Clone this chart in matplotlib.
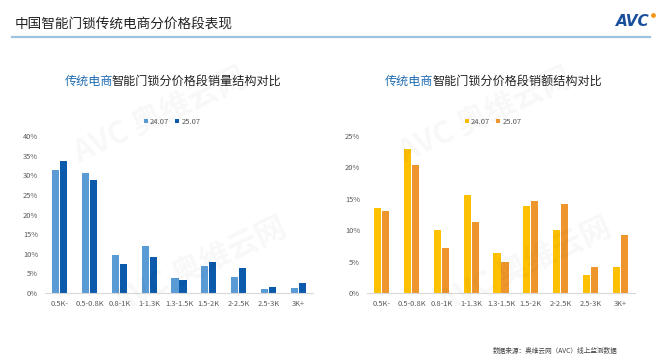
import matplotlib
matplotlib.use("Agg")
import matplotlib.pyplot as plt
import numpy as np

plt.rcParams['font.family'] = ['Noto Sans CJK SC', 'DejaVu Sans']

categories = ["0.5K-", "0.5-0.8K", "0.8-1K", "1-1.3K", "1.3-1.5K", "1.5-2K", "2-2.5K", "2.5-3K", "3K+"]
series_names = ["24.07", "25.07"]
volume_2407 = [31.3, 30.6, 9.8, 12.0, 3.9, 6.9, 4.1, 1.0, 1.2]
volume_2507 = [33.6, 28.8, 7.5, 9.2, 3.4, 7.8, 6.3, 1.5, 2.6]
value_2407 = [13.6, 23.0, 10.0, 15.6, 6.3, 13.8, 10.0, 2.8, 4.1]
value_2507 = [13.0, 20.4, 7.2, 11.3, 5.0, 14.7, 14.2, 4.2, 9.2]

W, H = 659, 364
fig = plt.figure(figsize=(W / 100, H / 100), dpi=100)
fig.patch.set_facecolor("white")

def fx(px):
    return px / W

def fy(py):
    return 1 - py / H

# faint watermarks
for (x, y) in [(160, 115), (485, 115), (200, 265), (525, 265)]:
    fig.text(fx(x), fy(y), "AVC 奥维云网", fontsize=22, color="#000000", alpha=0.03,
             rotation=25, ha="center", va="center", fontweight="bold")

# header
fig.text(fx(15), fy(24), "中国智能门锁传统电商分价格段表现", fontsize=9.8, color="#222222",
         ha="left", va="center")
fig.add_artist(plt.Line2D([fx(12), fx(650)], [fy(37), fy(37)], color="#9CC3E0", lw=1.6))
fig.text(fx(650), fy(21), "AVC", fontsize=11, color="#1A4F9C", fontweight="bold",
         fontstyle="italic", ha="right", va="center", family="DejaVu Sans")
fig.add_artist(plt.Line2D([fx(653)], [fy(15)], marker="o", color="#F39A1E", markersize=2.5))

def draw_panel(left_px, right_px, ymax, s1, s2, c1, c2, title_rest, split_px, legend_cx):
    ax = fig.add_axes([fx(left_px), fy(293), fx(right_px - left_px), fy(136) - fy(293)])
    x = np.arange(len(categories))
    w = 0.24
    ax.bar(x - 0.135, s1, width=w, color=c1, label=series_names[0])
    ax.bar(x + 0.135, s2, width=w, color=c2, label=series_names[1])
    ax.set_xlim(-0.5, len(categories) - 0.5)
    ax.set_ylim(0, ymax)
    ticks = np.arange(0, ymax + 0.1, 5)
    ax.set_yticks(ticks)
    ax.set_yticklabels([f"{int(v)}%" for v in ticks])
    ax.set_xticks(x)
    ax.set_xticklabels(categories)
    ax.tick_params(axis="both", length=0, labelsize=5.4, labelcolor="#595959", pad=5)
    for s in ["top", "right", "left"]:
        ax.spines[s].set_visible(False)
    ax.spines["bottom"].set_color("#D9D9D9")
    ax.spines["bottom"].set_linewidth(0.8)
    ax.patch.set_alpha(0)
    fig.text(fx(split_px), fy(81), "传统电商", fontsize=8.7, color="#1F6DB3", ha="right", va="center")
    fig.text(fx(split_px - 1), fy(81), title_rest, fontsize=8.7, color="#222222", ha="left", va="center")
    ax.legend(loc="center", bbox_to_anchor=(fx(legend_cx), fy(122)),
              bbox_transform=fig.transFigure, ncol=2, frameon=False,
              fontsize=5.5, handlelength=0.5, handleheight=0.5, handletextpad=0.3,
              columnspacing=0.8, labelcolor="#595959")
    return ax

draw_panel(45, 313, 40, volume_2407, volume_2507, "#5B9BD5", "#0B5AAB",
           "智能门锁分价格段销量结构对比", 113, 172)
draw_panel(367, 635, 25, value_2407, value_2507, "#FFC000", "#EE962D",
           "智能门锁分价格段销额结构对比", 433, 493)

fig.text(fx(618), fy(351), "数据来源：奥维云网（AVC）线上监测数据", fontsize=4.8,
         color="#404040", ha="right", va="center")

fig.savefig("out.png", dpi=100, facecolor="white")
